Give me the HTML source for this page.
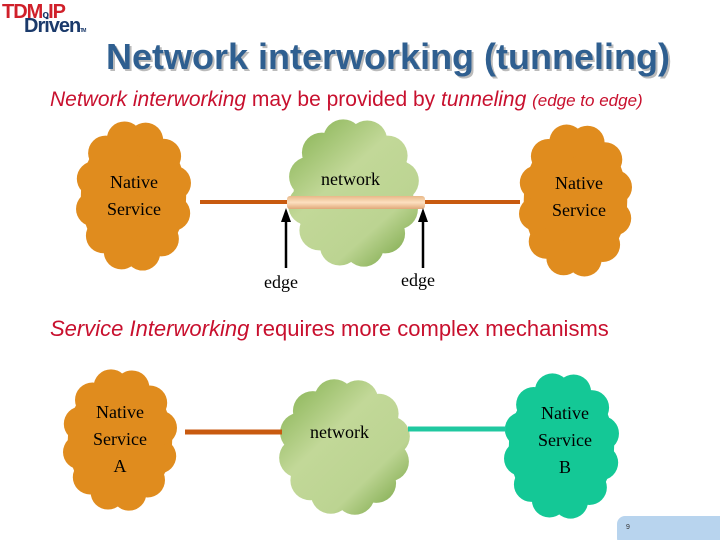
<!DOCTYPE html>
<html><head><meta charset="utf-8"><style>
html,body{margin:0;padding:0;background:#fff}
body{width:720px;height:540px;position:relative;overflow:hidden;font-family:"Liberation Sans",sans-serif}
.t{position:absolute;white-space:nowrap}
</style></head><body>
<svg id="s" width="720" height="540" style="position:absolute;left:0;top:0">
<defs>
<linearGradient id="gr1" gradientUnits="userSpaceOnUse" x1="287" y1="118" x2="420" y2="268">
<stop offset="0" stop-color="#7fae4a"/><stop offset="0.4" stop-color="#c2d898"/><stop offset="0.7" stop-color="#bcd492"/><stop offset="1" stop-color="#6a9c35"/>
</linearGradient>
<linearGradient id="gr2" gradientUnits="userSpaceOnUse" x1="278" y1="378" x2="411" y2="516">
<stop offset="0" stop-color="#7fae4a"/><stop offset="0.4" stop-color="#c2d898"/><stop offset="0.7" stop-color="#bcd492"/><stop offset="1" stop-color="#6a9c35"/>
</linearGradient>
<linearGradient id="tube" x1="0" y1="0" x2="0" y2="1">
<stop offset="0" stop-color="#e8b888"/><stop offset="0.5" stop-color="#fde0c0"/><stop offset="1" stop-color="#e0a878"/>
</linearGradient>
</defs>
<g id="clouds"></g>
<line x1="200" y1="202" x2="290" y2="202" stroke="#c85a10" stroke-width="4"/>
<line x1="422" y1="202" x2="520" y2="202" stroke="#c85a10" stroke-width="4"/>
<rect x="287" y="196" width="138" height="13" rx="3" fill="url(#tube)"/>
<line x1="286" y1="268" x2="286" y2="220" stroke="#000" stroke-width="2.5"/>
<polygon points="286,208 281,222 291,222" fill="#000"/>
<line x1="423" y1="268" x2="423" y2="220" stroke="#000" stroke-width="2.5"/>
<polygon points="423,208 418,222 428,222" fill="#000"/>
<line x1="185" y1="432" x2="282" y2="432" stroke="#c85a10" stroke-width="5"/>
<line x1="408" y1="429" x2="506" y2="429" stroke="#20c8a0" stroke-width="5"/>
<rect x="617" y="516" width="110" height="30" rx="8" fill="#b8d4ee"/>
</svg>
<div class="t" style="left:2px;top:2px;font-weight:bold;font-size:20px;color:#d0202a;letter-spacing:-1px;line-height:20px">TDM<span style="font-size:11px;color:#1b3a6b">o</span>IP</div>
<div class="t" style="left:24px;top:15px;font-weight:bold;font-size:20px;color:#1b3a6b;letter-spacing:-1px;line-height:22px">Driven<span style="font-size:5px">TM</span></div>
<div class="t" style="left:108px;top:37px;font-weight:bold;font-size:36px;color:#bbb;line-height:44px">Network interworking (tunneling)</div>
<div class="t" style="left:106px;top:35px;font-weight:bold;font-size:36px;color:#2f5f90;line-height:44px">Network interworking (tunneling)</div>
<div class="t" style="left:50px;top:88px;font-size:21px;color:#c8102e;line-height:24px"><i>Network interworking</i> may be provided by <i>tunneling</i> <i style="font-size:17px">(edge to edge)</i></div>
<div class="t" style="left:50px;top:316px;font-size:22px;color:#c8102e;line-height:26px"><i>Service Interworking</i> requires more complex mechanisms</div>
<div class="t" style="font-family:'Liberation Serif',serif;font-size:18px;line-height:27px;text-align:center;left:94px;top:169px;width:80px">Native<br>Service</div>
<div class="t" style="font-family:'Liberation Serif',serif;font-size:18px;line-height:27px;text-align:center;left:539px;top:170px;width:80px">Native<br>Service</div>
<div class="t" style="font-family:'Liberation Serif',serif;font-size:18px;left:321px;top:169px">network</div>
<div class="t" style="font-family:'Liberation Serif',serif;font-size:18px;left:264px;top:272px">edge</div>
<div class="t" style="font-family:'Liberation Serif',serif;font-size:18px;left:401px;top:270px">edge</div>
<div class="t" style="font-family:'Liberation Serif',serif;font-size:18px;line-height:27px;text-align:center;left:80px;top:399px;width:80px">Native<br>Service<br>A</div>
<div class="t" style="font-family:'Liberation Serif',serif;font-size:18px;line-height:27px;text-align:center;left:525px;top:400px;width:80px">Native<br>Service<br>B</div>
<div class="t" style="font-family:'Liberation Serif',serif;font-size:18px;left:310px;top:422px">network</div>
<div class="t" style="left:626px;top:524px;font-size:7px;color:#333">9</div>
<script>
var g=document.getElementById('clouds'),NS='http://www.w3.org/2000/svg';
function cloud(x0,y0,x1,y1,fill){
 var cx=(x0+x1)/2,cy=(y0+y1)/2,rx=(x1-x0)/2,ry=(y1-y0)/2;
 var grp=document.createElementNS(NS,'g');grp.setAttribute('fill',fill);
 var e=document.createElementNS(NS,'ellipse');e.setAttribute('cx',cx);e.setAttribute('cy',cy);e.setAttribute('rx',rx*0.9);e.setAttribute('ry',ry*0.9);grp.appendChild(e);
 var n=12,r=Math.min(rx,ry)*0.3;
 for(var i=0;i<n;i++){var a=i/n*2*Math.PI+0.3;
  var c=document.createElementNS(NS,'circle');
  c.setAttribute('cx',cx+(rx-r)*Math.cos(a));c.setAttribute('cy',cy+(ry-r)*Math.sin(a));c.setAttribute('r',r);grp.appendChild(c);}
 g.appendChild(grp);
}
cloud(75,120,192,272,'#e08c1e');
cloud(287,118,420,268,'url(#gr1)');
cloud(518,123,633,278,'#e08c1e');
cloud(62,368,178,512,'#e08c1e');
cloud(278,378,411,516,'url(#gr2)');
cloud(503,372,620,520,'#14c896');
</script>
</body></html>
